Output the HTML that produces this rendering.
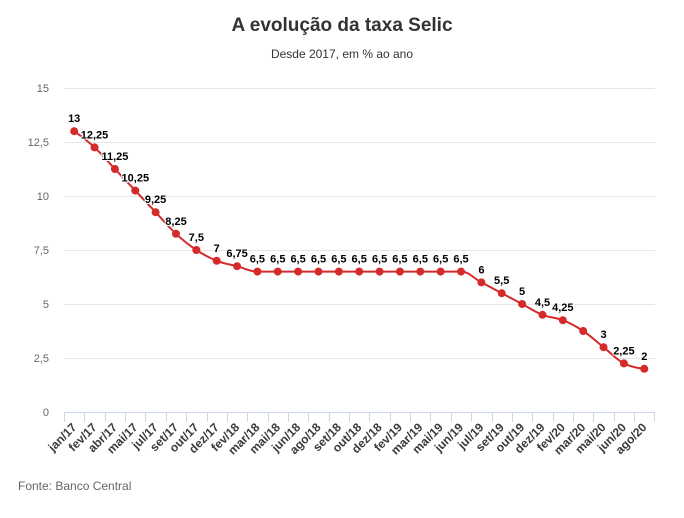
<!DOCTYPE html>
<html>
<head>
<meta charset="utf-8">
<style>
  html, body { margin: 0; padding: 0; background: #fff; }
  body { width: 684px; height: 518px; overflow: hidden; }
  svg { display: block; font-family: "Liberation Sans", "DejaVu Sans", sans-serif; }
</style>
</head>
<body>
<svg id="c" width="684" height="518" viewBox="0 0 684 518" xmlns="http://www.w3.org/2000/svg">
  <rect width="684" height="518" fill="#fff"/>
  <text x="342" y="31" text-anchor="middle" font-size="19" font-weight="bold" fill="#333">A evolução da taxa Selic</text>
  <text x="342" y="58" text-anchor="middle" font-size="12" fill="#333">Desde 2017, em % ao ano</text>
  <g id="grid" stroke="#e6e6e6" stroke-width="1">
    <line x1="64" x2="655" y1="88.5" y2="88.5"/>
    <line x1="64" x2="655" y1="142.5" y2="142.5"/>
    <line x1="64" x2="655" y1="196.5" y2="196.5"/>
    <line x1="64" x2="655" y1="250.5" y2="250.5"/>
    <line x1="64" x2="655" y1="304.5" y2="304.5"/>
    <line x1="64" x2="655" y1="358.5" y2="358.5"/>
  </g>
  <g font-size="11" fill="#666" text-anchor="end">
    <text x="49" y="92">15</text>
    <text x="49" y="146">12,5</text>
    <text x="49" y="200">10</text>
    <text x="49" y="254">7,5</text>
    <text x="49" y="308">5</text>
    <text x="49" y="362">2,5</text>
    <text x="49" y="416">0</text>
  </g>
  <line x1="64" x2="655" y1="412.5" y2="412.5" stroke="#ccd6eb" stroke-width="1"/>
  <g id="ticks" stroke="#ccd6eb" stroke-width="1"></g>
  <g id="xlabels" font-size="12" font-weight="bold" fill="#3a3a3a" text-anchor="end"></g>
  <path id="line" d="" fill="none" stroke="#d42a2a" stroke-width="2" stroke-linejoin="round" stroke-linecap="round"/>
  <g id="points" fill="#d42a2a"></g>
  <g id="dlabels" font-size="11" font-weight="bold" fill="#000" text-anchor="middle" stroke="#fff" stroke-width="2" stroke-linejoin="round" style="paint-order: stroke"></g>
  <text x="18" y="490" font-size="12" fill="#666">Fonte: Banco Central</text>
</svg>
<script>
(function(){
  var NS = "http://www.w3.org/2000/svg";
  var cats = ["jan/17","fev/17","abr/17","mai/17","jul/17","set/17","out/17","dez/17","fev/18","mar/18","mai/18","jun/18","ago/18","set/18","out/18","dez/18","fev/19","mar/19","mai/19","jun/19","jul/19","set/19","out/19","dez/19","fev/20","mar/20","mai/20","jun/20","ago/20"];
  var vals = [13,12.25,11.25,10.25,9.25,8.25,7.5,7,6.75,6.5,6.5,6.5,6.5,6.5,6.5,6.5,6.5,6.5,6.5,6.5,6,5.5,5,4.5,4.25,3.75,3,2.25,2];
  var x0 = 64, w = 20.36, y0 = 412, k = 21.6;
  var ticks = document.getElementById("ticks");
  var xl = document.getElementById("xlabels");
  var pg = document.getElementById("points");
  var dl = document.getElementById("dlabels");
  function el(n, a, t){ var e = document.createElementNS(NS, n); for (var q in a) e.setAttribute(q, a[q]); if (t!==undefined) e.textContent = t; return e; }
  for (var i = 0; i <= cats.length; i++) {
    var tx = Math.round(x0 + w*i) + 0.5;
    ticks.appendChild(el("line", {x1: tx, x2: tx, y1: 412, y2: 422}));
  }
  var pts = [];
  for (var i = 0; i < cats.length; i++) {
    var cx = x0 + w*(i+0.5);
    var cy = y0 - vals[i]*k;
    pts.push({x: cx, y: cy});
    xl.appendChild(el("text", {transform: "translate(" + (cx+3).toFixed(1) + ",428) rotate(-45)"}, cats[i]));
  }
  var sm = 1.5, den = 2.5;
  for (var i = 1; i < pts.length - 1; i++) {
    var p = pts[i], l = pts[i-1], n = pts[i+1];
    var lcx = (sm*p.x + l.x)/den, lcy = (sm*p.y + l.y)/den;
    var rcx = (sm*p.x + n.x)/den, rcy = (sm*p.y + n.y)/den;
    var corr = 0;
    if (rcx !== lcx) corr = ((rcy - lcy)*(rcx - p.x))/(rcx - lcx) + p.y - rcy;
    lcy += corr; rcy += corr;
    if (lcy > l.y && lcy > p.y) { lcy = Math.max(l.y, p.y); rcy = 2*p.y - lcy; }
    else if (lcy < l.y && lcy < p.y) { lcy = Math.min(l.y, p.y); rcy = 2*p.y - lcy; }
    if (rcy > n.y && rcy > p.y) { rcy = Math.max(n.y, p.y); lcy = 2*p.y - rcy; }
    else if (rcy < n.y && rcy < p.y) { rcy = Math.min(n.y, p.y); lcy = 2*p.y - rcy; }
    p.lcx = lcx; p.lcy = lcy; p.rcx = rcx; p.rcy = rcy;
  }
  var d = "M" + pts[0].x.toFixed(2) + " " + pts[0].y.toFixed(2);
  for (var i = 1; i < pts.length; i++) {
    var l = pts[i-1], p = pts[i];
    var a1 = l.rcx !== undefined ? l.rcx : l.x, b1 = l.rcy !== undefined ? l.rcy : l.y;
    var a2 = p.lcx !== undefined ? p.lcx : p.x, b2 = p.lcy !== undefined ? p.lcy : p.y;
    d += " C" + a1.toFixed(2) + " " + b1.toFixed(2) + " " + a2.toFixed(2) + " " + b2.toFixed(2) + " " + p.x.toFixed(2) + " " + p.y.toFixed(2);
  }
  document.getElementById("line").setAttribute("d", d);
  for (var i = 0; i < pts.length; i++) {
    pg.appendChild(el("circle", {cx: pts[i].x.toFixed(2), cy: pts[i].y.toFixed(2), r: 4}));
    if (i === 25) continue;
    var s = String(vals[i]).replace(".", ",");
    dl.appendChild(el("text", {x: pts[i].x.toFixed(1), y: (pts[i].y - 9).toFixed(1)}, s));
  }
})();
</script>
</body>
</html>
